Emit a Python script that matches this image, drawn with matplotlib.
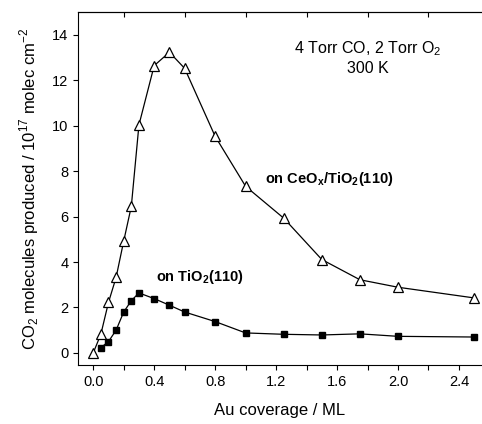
import matplotlib.pyplot as plt
from matplotlib.ticker import MultipleLocator, FixedLocator

plt.rcParams['font.family'] = ['Liberation Sans', 'DejaVu Sans']
plt.rcParams['mathtext.fontset'] = 'custom'
plt.rcParams['mathtext.rm'] = 'Liberation Sans'
plt.rcParams['mathtext.bf'] = 'Liberation Sans:bold'

# Au coverage (ML) and CO2 produced (1e17 molec/cm2)
cov_ceox = [0, 0.05, 0.1, 0.15, 0.2, 0.25, 0.3, 0.4, 0.5, 0.6, 0.8, 1.0,
            1.25, 1.5, 1.75, 2.0, 2.5]
co2_ceox = [0, 0.82, 2.22, 3.32, 4.92, 6.45, 10.03, 12.64, 13.23, 12.52,
            9.53, 7.33, 5.93, 4.11, 3.22, 2.89, 2.42]

cov_tio2 = [0.05, 0.1, 0.15, 0.2, 0.25, 0.3, 0.4, 0.5, 0.6, 0.8, 1.0,
            1.25, 1.5, 1.75, 2.0, 2.5]
co2_tio2 = [0.23, 0.5, 1.0, 1.8, 2.3, 2.64, 2.39, 2.1, 1.8, 1.38, 0.88,
            0.82, 0.79, 0.84, 0.73, 0.70]

fig = plt.figure(figsize=(4.82, 4.24), dpi=100)
ax = fig.add_axes([0.1618, 0.1392, 0.8362, 0.8325])

ax.plot(cov_ceox, co2_ceox, color='black', lw=0.9, marker='^', ms=6.5,
        mfc='white', mec='black', mew=0.9, zorder=3)
ax.plot(cov_tio2, co2_tio2, color='black', lw=0.9, marker='s', ms=4.5,
        mfc='black', mec='black', zorder=3)

ax.set_xlim(-0.1, 2.545)
ax.set_ylim(-0.53, 15.0)

ax.spines['right'].set_visible(False)
ax.xaxis.set_major_locator(MultipleLocator(0.4))
ax.xaxis.set_minor_locator(MultipleLocator(0.2))
ax.yaxis.set_major_locator(MultipleLocator(2))
ax.tick_params(axis='both', which='both', direction='out', labelsize=10.5,
               length=3.5, width=0.8, top=False, right=False)
ax.xaxis.set_major_formatter(plt.FuncFormatter(lambda v, p: f"{v:.1f}"))

# inward ticks on the top spine
top = ax.secondary_xaxis('top')
top.xaxis.set_major_locator(FixedLocator([0.2, 0.6, 1.0, 1.4, 1.8, 2.2]))
top.tick_params(direction='in', length=3.5, width=0.8, labeltop=False)

ax.set_xlabel('Au coverage / ML', fontsize=12, labelpad=10)
ax.set_ylabel('CO$_2$ molecules produced / 10$^{17}$ molec cm$^{-2}$',
              fontsize=12, labelpad=8)

ax.text(1.8, 13.0, '4 Torr CO, 2 Torr O$_2$\n300 K', fontsize=11.5,
        ha='center', va='center', linespacing=1.3)
ax.text(1.13, 7.65, r'on CeO$_\mathbf{x}$/TiO$_\mathbf{2}$(110)',
        fontsize=10.5, fontweight='bold', ha='left', va='center')
ax.text(0.41, 3.35, r'on TiO$_\mathbf{2}$(110)', fontsize=10.5,
        fontweight='bold', ha='left', va='center')

fig.savefig('out.png', dpi=100)
